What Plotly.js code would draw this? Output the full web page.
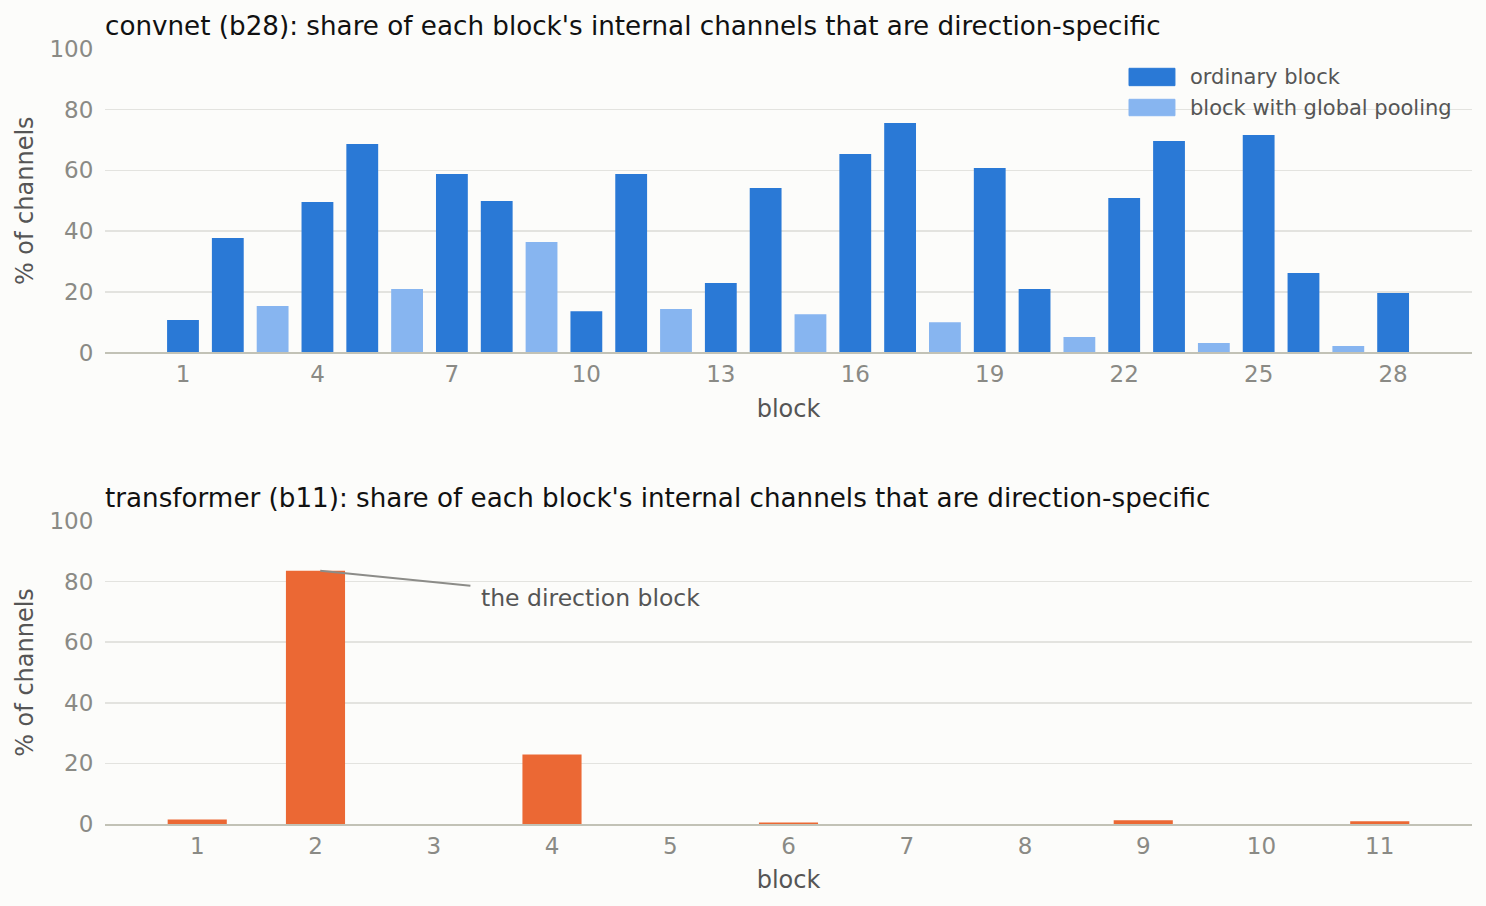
<!DOCTYPE html>
<html>
<head>
<meta charset="utf-8">
<script src="https://cdn.plot.ly/plotly-3.0.1.min.js"></script>
<style>
  html, body { margin: 0; padding: 0; background: #fcfcfa; }
  #chart { width: 1486px; height: 906px; }
</style>
</head>
<body>
<div id="chart"></div>
<script>
// ---- data ----
const convBlocks = [1,2,3,4,5,6,7,8,9,10,11,12,13,14,15,16,17,18,19,20,21,22,23,24,25,26,27,28];
const convShare  = [10.7,37.7,15.3,49.6,68.7,20.9,58.8,49.9,36.4,13.6,58.8,14.3,22.9,54.2,12.6,65.4,75.6,10.0,60.8,20.9,5.1,50.9,69.7,3.1,71.7,26.2,2.1,19.6];
const poolingBlocks = [3,6,9,12,15,18,21,24,27];
const convTickVals = [1,4,7,10,13,16,19,22,25,28];

const trBlocks = [1,2,3,4,5,6,7,8,9,10,11];
const trShare  = [1.5,83.6,0,22.9,0,0.5,0,0,1.2,0,0.9];

const seriesNames = ["ordinary block", "block with global pooling"];
const titles = [
  "convnet (b28): share of each block's internal channels that are direction-specific",
  "transformer (b11): share of each block's internal channels that are direction-specific"
];
const annotationText = "the direction block";
const yTitle = "% of channels";
const xTitle = "block";

// ---- build traces ----
const ordX = [], ordY = [], poolX = [], poolY = [];
convBlocks.forEach((b, i) => {
  if (poolingBlocks.includes(b)) { poolX.push(b); poolY.push(convShare[i]); }
  else { ordX.push(b); ordY.push(convShare[i]); }
});

const FONT = "DejaVu Sans, sans-serif";
const DARK = "#2a79d6";
const LIGHT = "#87b5f0";
const ORANGE = "#eb6834";
const seriesColors = [DARK, LIGHT];

const traces = [
  { type: "bar", x: ordX, y: ordY, name: seriesNames[0], marker: { color: DARK }, width: 0.71, xaxis: "x", yaxis: "y", showlegend: false },
  { type: "bar", x: poolX, y: poolY, name: seriesNames[1], marker: { color: LIGHT }, width: 0.71, xaxis: "x", yaxis: "y", showlegend: false },
  { type: "bar", x: trBlocks, y: trShare, name: "transformer", marker: { color: ORANGE }, width: 0.5, xaxis: "x2", yaxis: "y2", showlegend: false }
];

const tickFont = { family: FONT, size: 23, color: "#8a8a85" };
const axTitleFont = { family: FONT, size: 24, color: "#555555" };

function xAxis(extra) {
  return Object.assign({
    showgrid: false, zeroline: false,
    showline: true, linecolor: "#c2c2b6", linewidth: 2,
    ticks: "", ticklen: 0,
    tickfont: tickFont,
    title: { text: xTitle, font: axTitleFont, standoff: 14 }
  }, extra);
}
function yAxis(extra) {
  return Object.assign({
    range: [0, 100], tickvals: [0,20,40,60,80,100],
    showgrid: true, gridcolor: "#e3e3df", gridwidth: 1.5,
    zeroline: false, showline: false,
    ticks: "outside", ticklen: 6, tickcolor: "rgba(0,0,0,0)",
    tickfont: tickFont,
    title: { text: yTitle, font: axTitleFont, standoff: 9 }
  }, extra);
}

// legend drawn as swatches + labels (paper coords)
const legendShapes = [], legendLabels = [];
const swY = [[0.9527, 0.9751], [0.9139, 0.9351]];
const labY = [0.9635, 0.9235];
seriesNames.forEach((n, i) => {
  legendShapes.push({ type: "rect", xref: "paper", yref: "paper", x0: 0.7491, x1: 0.7827, y0: swY[i][0], y1: swY[i][1],
    fillcolor: seriesColors[i], line: { color: seriesColors[i], width: 1 } });
  legendLabels.push({ text: n, xref: "paper", yref: "paper", x: 0.7922, y: labY[i], xanchor: "left", yanchor: "middle",
    showarrow: false, font: { family: FONT, size: 21, color: "#555555" } });
});

const layout = {
  width: 1486, height: 906,
  paper_bgcolor: "#fcfcfa", plot_bgcolor: "#fcfcfa",
  margin: { l: 105, r: 14, t: 49, b: 82 },
  barmode: "overlay",
  font: { family: FONT },
  showlegend: false,
  xaxis: xAxis({ domain: [0, 1], anchor: "y", range: [-0.74, 29.76], tickvals: convTickVals }),
  yaxis: yAxis({ domain: [0.6084, 1], anchor: "x" }),
  xaxis2: xAxis({ domain: [0, 1], anchor: "y2", range: [0.22, 11.78], tickvals: trBlocks }),
  yaxis2: yAxis({ domain: [0, 0.391], anchor: "x2" }),
  shapes: [
    { type: "line", xref: "x2", yref: "y2", x0: 2.04, y0: 83.6, x1: 3.31, y1: 78.6,
      line: { color: "#8c8c88", width: 2 } }
  ].concat(legendShapes),
  annotations: [
    { text: titles[0], xref: "paper", yref: "paper", x: -0.0015, y: 1.0296, xanchor: "left", yanchor: "middle",
      showarrow: false, font: { family: FONT, size: 26.2, color: "#111111" } },
    { text: titles[1], xref: "paper", yref: "paper", x: -0.0015, y: 0.421, xanchor: "left", yanchor: "middle",
      showarrow: false, font: { family: FONT, size: 26.2, color: "#111111" } },
    { text: annotationText, xref: "x2", yref: "y2", x: 3.383, y: 74.6, xanchor: "left", yanchor: "middle",
      showarrow: false, font: { family: FONT, size: 23.5, color: "#555555" } }
  ].concat(legendLabels)
};

Plotly.newPlot("chart", traces, layout, { displayModeBar: false, staticPlot: true });
</script>
</body>
</html>
